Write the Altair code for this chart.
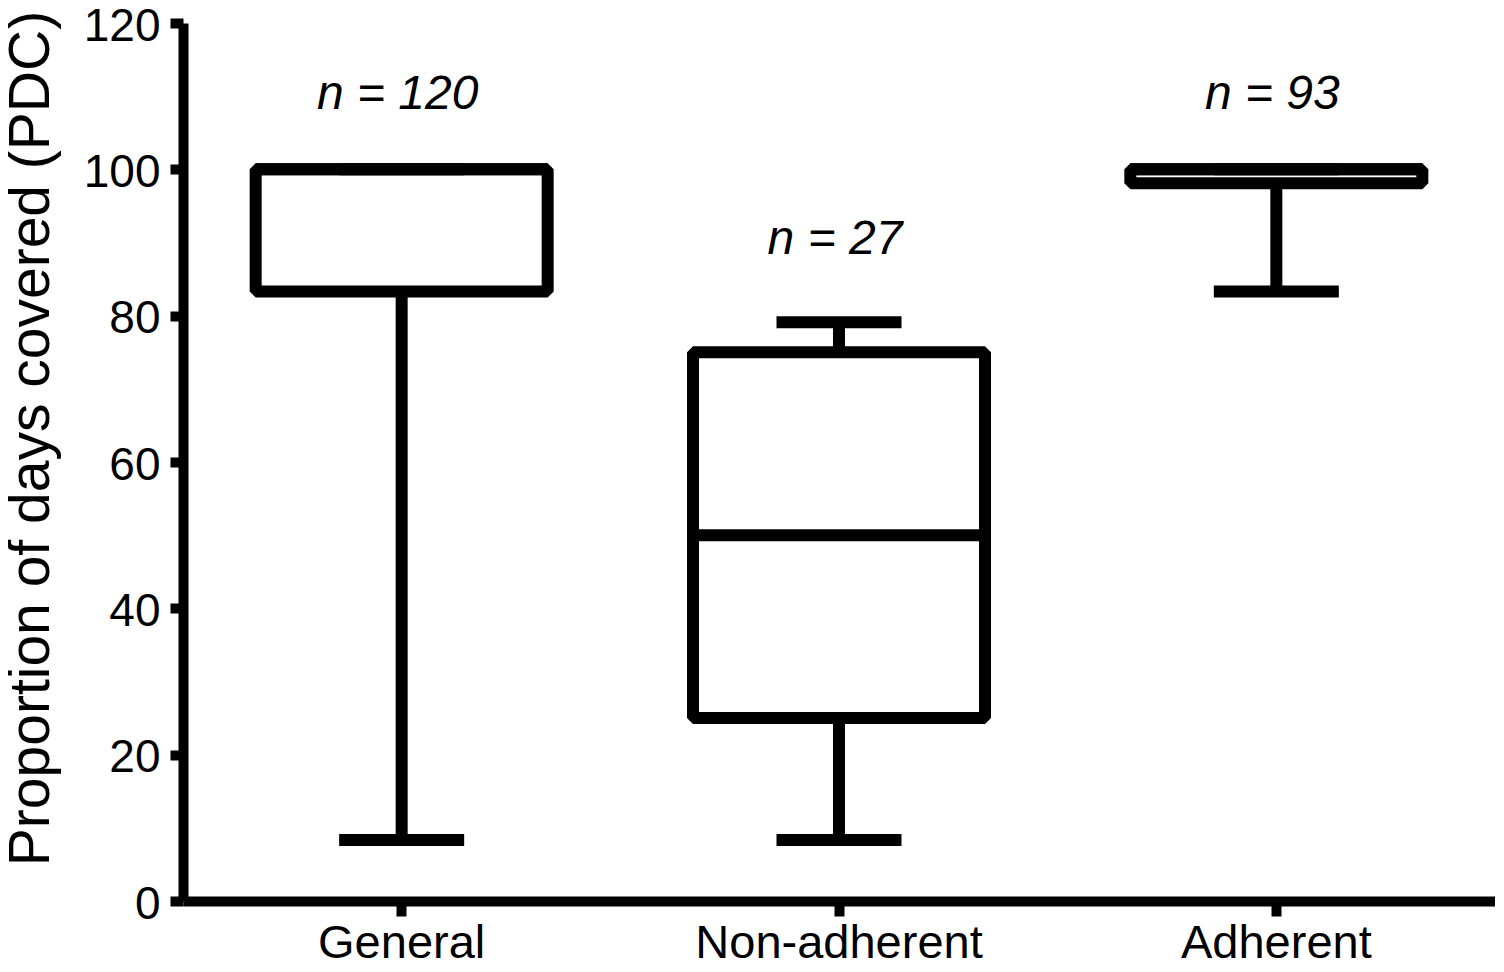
import altair as alt
import pandas as pd

groups = ["General", "Non-adherent", "Adherent"]
low = [8.33, 8.33, 83.3]
q1 = [83.3, 25.0, 98.1]
median = [100.0, 50.0, 100.0]
q3 = [100.0, 75.0, 100.0]
high = [100.0, 79.1, 100.0]
n_labels = ["n = 120", "n = 27", "n = 93"]
label_y = [108.2, 88.4, 108.2]
y_ticks = [0, 20, 40, 60, 80, 100, 120]

df = pd.DataFrame(dict(group=groups, low=low, q1=q1, median=median, q3=q3,
                       high=high, label=n_labels, label_y=label_y))

FONT = "Liberation Sans"
TITLE = "Proportion of days covered (PDC)"

yscale = alt.Scale(domain=[0, 120], nice=False, zero=True)
yaxis = alt.Axis(title=TITLE, values=y_ticks, grid=False, tickSize=13, tickWidth=10,
                 domainWidth=10, labelFontSize=46, labelPadding=10, labelOffset=3,
                 titleFontSize=57, titleFontWeight="normal", titleX=-135, titleY=415,
                 titleBaseline="alphabetic", titleAngle=270, titleAlign="center",
                 titleLimit=0)
xaxis = alt.Axis(title=None, labelAngle=0, tickSize=15, tickWidth=10, domainWidth=10,
                 labelFontSize=47, labelPadding=4, labelLimit=0, grid=False)

base = alt.Chart(df).encode(
    x=alt.X("group:N", sort=groups,
            scale=alt.Scale(paddingInner=0, paddingOuter=0), axis=xaxis)
)

lower_whisker = base.mark_rule(strokeWidth=12, color="black").encode(
    y=alt.Y("low:Q", scale=yscale, axis=yaxis), y2="q1:Q")
upper_whisker = base.mark_rule(strokeWidth=12, color="black").encode(
    y=alt.Y("q3:Q", scale=yscale, axis=yaxis), y2="high:Q")
box = base.mark_bar(size=292, fill="white", stroke="black", strokeWidth=12,
                    strokeJoin="bevel").encode(
    y=alt.Y("q1:Q", scale=yscale, axis=yaxis), y2="q3:Q")
med = base.mark_tick(size=292, thickness=12, color="black", opacity=1).encode(
    y=alt.Y("median:Q", scale=yscale, axis=yaxis))
cap_low = base.mark_tick(size=125, thickness=12, color="black", opacity=1).encode(
    y=alt.Y("low:Q", scale=yscale, axis=yaxis))
cap_high = base.mark_tick(size=125, thickness=12, color="black", opacity=1).encode(
    y=alt.Y("high:Q", scale=yscale, axis=yaxis))
labels = base.mark_text(font=FONT, fontSize=48, fontStyle="italic", baseline="alphabetic",
                        align="center", color="black", dx=-4).encode(
    y=alt.Y("label_y:Q", scale=yscale, axis=yaxis), text="label:N")

chart = alt.layer(lower_whisker, upper_whisker, box, med, cap_low, cap_high, labels).properties(
    width=1312, height=878,
    padding={"left": 175, "top": 15, "right": 0, "bottom": 68},
    autosize=alt.AutoSizeParams(type="none"),
    background="white",
).configure_view(stroke=None).configure_axis(
    labelFont=FONT, titleFont=FONT, labelColor="black", titleColor="black",
    domainColor="black", tickColor="black"
)

chart.save("out.html", embed_options={"renderer": "svg", "actions": False})
